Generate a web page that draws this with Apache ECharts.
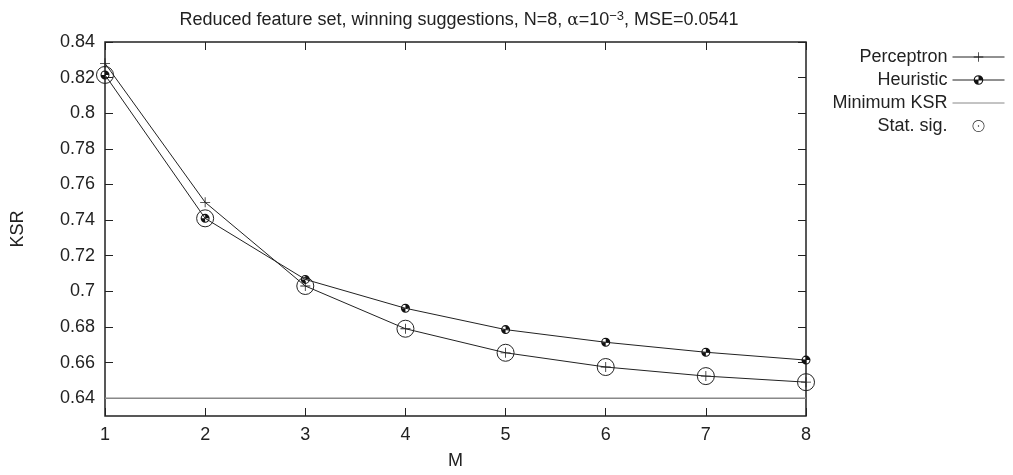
<!DOCTYPE html>
<html>
<head>
<meta charset="utf-8">
<script src="https://cdn.jsdelivr.net/npm/echarts@6/dist/echarts.min.js"></script>
<style>
  html, body { margin: 0; padding: 0; background: #fff; }
  #chart { width: 1013px; height: 475px; }
</style>
</head>
<body>
<div id="chart"></div>
<script>
  // values
  var mValues = [1, 2, 3, 4, 5, 6, 7, 8];
  var perceptron = [0.828, 0.750, 0.703, 0.679, 0.6655, 0.6575, 0.6524, 0.6490];
  var heuristic = [0.8215, 0.741, 0.7067, 0.6905, 0.6785, 0.6714, 0.6658, 0.6614];
  var minimumKsr = [0.64, 0.64, 0.64, 0.64, 0.64, 0.64, 0.64, 0.64];
  // stat. sig. marks: which series is circled at each M
  var statSigSource = ['H', 'H', 'P', 'P', 'P', 'P', 'P', 'P'];
  var yTicks = [0.64, 0.66, 0.68, 0.7, 0.72, 0.74, 0.76, 0.78, 0.8, 0.82, 0.84];

  var font = 'Liberation Sans, Arial, sans-serif';
  var ink = '#222';
  var fs = 18;

  function pairs(ys) {
    return mValues.map(function (m, i) { return [m, ys[i]]; });
  }
  var statSig = mValues.map(function (m, i) {
    return [m, statSigSource[i] === 'H' ? heuristic[i] : perceptron[i]];
  });

  // gnuplot-like point shapes
  var plusPath = 'path://M0,4.6H10V5.4H0Z M4.6,0H5.4V10H4.6Z';
  var quadCircle = 'path://M5,0A5,5 0 1,1 4.99,0Z M5,1.2A3.8,3.8 0 1,0 5.01,1.2Z' +
    'M5,5L5,0A5,5 0 0,1 10,5Z M5,5L5,10A5,5 0 0,1 0,5Z';
  var dotRing = 'path://M6,0A6,6 0 1,1 5.99,0Z M6,0.7A5.3,5.3 0 1,0 6.01,0.7Z' +
    'M6,5.3A0.7,0.7 0 1,1 5.99,5.3Z';

  var chart = echarts.init(document.getElementById('chart'));
  var xCommon = {
    type: 'value', min: 1, max: 8, interval: 1,
    axisLine: { show: false },
    axisTick: { show: true, inside: true, length: 8, lineStyle: { color: ink, width: 1 } },
    splitLine: { show: false }
  };
  var yCommon = {
    type: 'value', min: 0.63, max: 0.84,
    axisLine: { show: false },
    axisTick: { show: true, inside: true, length: 8, customValues: yTicks, lineStyle: { color: ink, width: 1 } },
    splitLine: { show: false }
  };

  chart.setOption({
    animation: false,
    backgroundColor: '#fff',
    title: {
      text: 'Reduced feature set, winning suggestions, N=8, {g|α}=10{sup|−3}, MSE=0.0541',
      left: 454, top: 5, textAlign: 'center',
      textStyle: {
        fontFamily: font, fontSize: fs, fontWeight: 'normal', color: ink,
        rich: {
          g: { fontFamily: 'DejaVu Serif, serif', fontSize: fs - 1, color: ink },
          sup: { fontFamily: font, fontSize: 13, color: ink, verticalAlign: 'top', padding: [0, 0, 8, 0] }
        }
      }
    },
    legend: {
      orient: 'vertical',
      right: 3, top: 43,
      align: 'right',
      itemWidth: 52, itemHeight: 12, itemGap: 5,
      lineStyle: { width: 1 },
      textStyle: { fontFamily: font, fontSize: fs, color: ink },
      data: [
        'Perceptron',
        'Heuristic',
        { name: 'Minimum KSR', itemStyle: { opacity: 0 } },
        { name: 'Stat. sig.', icon: dotRing, itemStyle: { color: ink, borderWidth: 0 } }
      ]
    },
    grid: {
      left: 105, right: 207, top: 42, bottom: 56,
      show: true, borderColor: ink, borderWidth: 1.5, backgroundColor: 'transparent'
    },
    xAxis: [
      Object.assign({}, xCommon, {
        position: 'bottom',
        name: 'M', nameLocation: 'middle', nameGap: 36,
        nameTextStyle: { fontFamily: font, fontSize: fs, color: ink },
        axisLabel: { fontFamily: font, fontSize: fs, color: ink, margin: 10 }
      }),
      Object.assign({}, xCommon, { position: 'top', axisLabel: { show: false } })
    ],
    yAxis: [
      Object.assign({}, yCommon, {
        position: 'left',
        name: 'KSR', nameLocation: 'middle', nameGap: 78, nameRotate: 90,
        nameTextStyle: { fontFamily: font, fontSize: fs, color: ink },
        axisLabel: {
          customValues: yTicks, fontFamily: font, fontSize: fs, color: ink, margin: 10,
          formatter: function (v) { return String(+v.toFixed(2)); }
        }
      }),
      Object.assign({}, yCommon, { position: 'right', axisLabel: { show: false } })
    ],
    series: [
      {
        name: 'Perceptron', type: 'line', data: pairs(perceptron),
        symbol: plusPath, symbolSize: 10, showSymbol: true,
        lineStyle: { color: ink, width: 1 },
        itemStyle: { color: ink },
        z: 3
      },
      {
        name: 'Heuristic', type: 'line', data: pairs(heuristic),
        symbol: quadCircle, symbolSize: 9,
        lineStyle: { color: ink, width: 1 },
        itemStyle: { color: '#111' },
        z: 3
      },
      {
        name: 'Minimum KSR', type: 'line', data: pairs(minimumKsr),
        symbol: 'none',
        lineStyle: { color: '#888', width: 1.5 },
        itemStyle: { color: '#888' },
        z: 2
      },
      {
        name: 'Stat. sig.', type: 'scatter', data: statSig,
        symbol: 'circle', symbolSize: 17,
        itemStyle: { color: 'rgba(0,0,0,0)', borderColor: ink, borderWidth: 1, opacity: 1 },
        z: 4
      }
    ]
  });
</script>
</body>
</html>
